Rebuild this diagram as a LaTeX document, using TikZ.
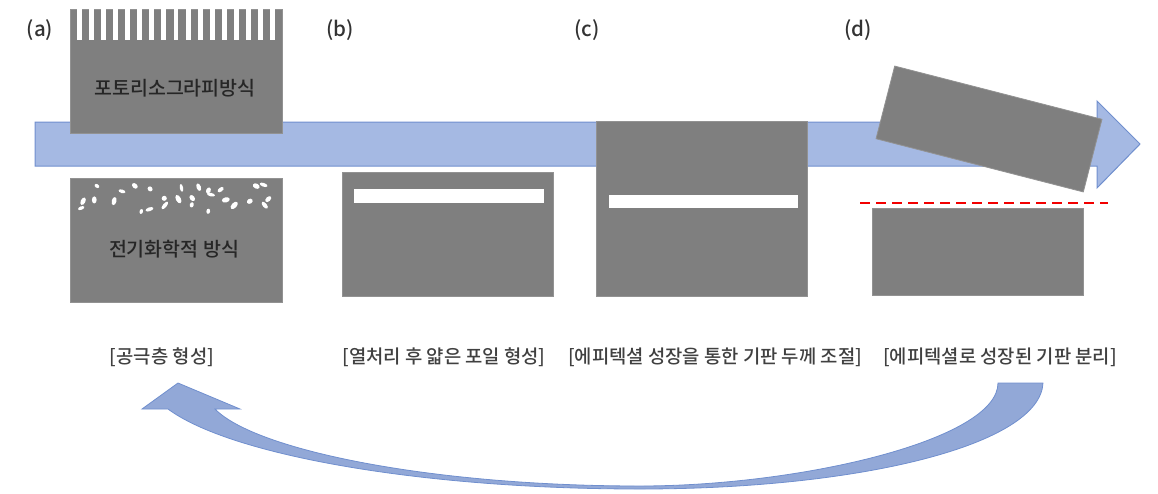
\documentclass[tikz,border=0pt]{standalone}
\usepackage{fontspec}
\setmainfont{Noto Sans CJK KR}
\newfontfamily\krmed{Noto Sans CJK KR Medium}
\usetikzlibrary{positioning}
\definecolor{slabgray}{RGB}{127,127,127}
\definecolor{flowfill}{RGB}{165,185,227}
\definecolor{flowline}{RGB}{112,143,206}
\definecolor{loopfill}{RGB}{146,168,215}
\tikzset{
  slab/.style={draw=slabgray!85!white, fill=slabgray, line width=0.8pt, inner sep=0pt, minimum width=212pt},
  gap/.style={fill=white, draw=none, inner sep=0pt},
  boxtxt/.style={font=\krmed\fontsize{19.5}{22}\selectfont, text=black!85},
  caption/.style={font=\krmed\fontsize{18.8}{22}\selectfont, text=black!75},
  steplbl/.style={font=\krmed\fontsize{20.5}{24}\selectfont, text=black!80},
  flow/.style={fill=flowfill, draw=flowline, line width=1pt, line join=miter},
  cutline/.style={draw=red!95!black, line width=2pt, dash pattern=on 10pt off 6pt}}

\begin{document}
\begin{tikzpicture}[x=1pt, y=-1pt]
  \useasboundingbox (0,0) rectangle (1158,493);
  % main process arrow
  \draw[flow] (35,122) -- (1097,122) -- (1097,101) -- (1140,144) -- (1097,188)
    -- (1097,166) -- (35,166) -- cycle;

  % (a) photolithography: comb on top
  \node[slab, minimum height=124pt, anchor=north west] (photo) at (70,9) {};
  \foreach \i in {0,...,16}
    \fill[gap] (77.1+\i*12.05,8) rectangle ++(4.95,32);
  \node[boxtxt] (photolbl) at (175,88) {포토리소그라피방식};

  % (a) electrochemical: pores on a jittered grid
  \node[slab, minimum height=124pt, anchor=north west] (echem) at (70,178) {};
  \pgfmathsetseed{7}
  \foreach \c in {0,...,13}
    \foreach \r in {0,...,2}{
      \pgfmathsetmacro\px{82+\c*14.2+8*(rnd-0.5)}
      \pgfmathsetmacro\py{188+\r*10+7*(rnd-0.5)}
      \pgfmathsetmacro\ra{2.4+2.6*rnd}
      \pgfmathsetmacro\rb{1.6+1*rnd}
      \pgfmathsetmacro\ang{180*rnd}
      \pgfmathsetmacro\keep{rnd}
      \ifdim\keep pt<0.8pt
        \fill[gap, rotate around={\ang:(\px,\py)}] (\px,\py) ellipse ({\ra pt} and {\rb pt});
      \fi
    }
  \node[boxtxt] (echemlbl) at (174,249) {전기화학적 방식};

  % (b) thin foil after annealing
  \node[slab, minimum height=124pt, minimum width=211pt, anchor=north west] (foil) at (342,172) {};
  \node[gap, minimum width=190pt, minimum height=14pt, anchor=north west] (foilgap) at (354,189) {};

  % (c) epitaxial thickening
  \node[slab, minimum height=175pt, minimum width=211pt, anchor=north west] (epi) at (596,121) {};
  \node[gap, minimum width=189pt, minimum height=13pt, anchor=north west] (epigap) at (609,195) {};

  % (d) lift-off
  \node[slab, minimum width=214pt, minimum height=75pt, rotate=-14.4] (lifted) at (989,129) {};
  \node[slab, minimum width=211pt, minimum height=87pt, anchor=north west] (rest) at (872,208) {};
  \coordinate (cutL) at (860,203);
  \coordinate (cutR) at (1108,203);
  \draw[cutline] (cutL) -- (cutR);

  % step letters
  \node[steplbl] (sa) at (40,30) {(a)};
  \node[steplbl] (sb) at (340,30) {(b)};
  \node[steplbl] (sc) at (587,30) {(c)};
  \node[steplbl] (sd) at (858,30) {(d)};

  % captions
  \node[caption] (ca) at (162,357) {[공극층 형성]};
  \node[caption] (cb) at (444,357) {[열처리 후 얇은 포일 형성]};
  \node[caption] (cc) at (715,357) {[에피텍셜 성장을 통한 기판 두께 조절]};
  \node[caption] (cd) at (1000,357) {[에피텍셜로 성장된 기판 분리]};

  % substrate reuse loop
  \fill[loopfill, draw=flowline, line width=0.8pt, line join=miter]
    (1043,383) .. controls (1040,445) and (860,489) .. (640,489)
    .. controls (420,489) and (230,455) .. (168,409)
    -- (142,409) -- (178,383) -- (240,409) -- (215,409)
    .. controls (255,450) and (430,486) .. (640,486)
    .. controls (800,486) and (998,440) .. (998,383) -- cycle;
\end{tikzpicture}
\end{document}
